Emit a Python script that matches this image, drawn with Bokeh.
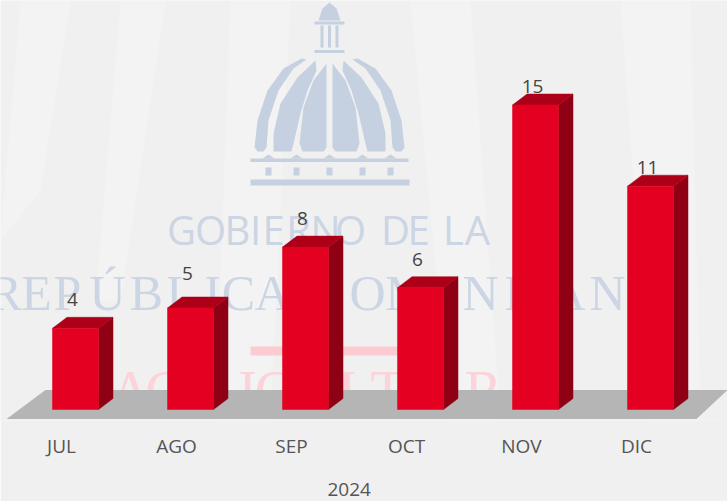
from bokeh.plotting import figure
from bokeh.embed import file_html
from bokeh.resources import INLINE
from bokeh.models import Range1d, LinearAxis, FixedTicker, Title, ColumnDataSource
from bokeh.core.properties import value

months = ["JUL", "AGO", "SEP", "OCT", "NOV", "DIC"]
counts = [4, 5, 8, 6, 15, 11]
year = "2024"

W, H, FRAME_H = 727, 501, 420
PX_X, PX_Y = 115.0, 20.3       # pixels per category / per unit
X0, Y0 = 75.0, 409.0           # pixel position of first bar centre / of zero
HALF = 23 / PX_X               # half bar width
DX, DY = 14.5 / PX_X, 11 / PX_Y  # 3D depth
BG = "#f0f0f0"

p = figure(width=W, height=H, output_backend="svg", toolbar_location=None,
           x_axis_type=None, y_axis_type=None, min_border=0, min_border_bottom=H - FRAME_H,
           x_range=Range1d(-X0 / PX_X, (W - X0) / PX_X),
           y_range=Range1d((Y0 - FRAME_H) / PX_Y, Y0 / PX_Y),
           background_fill_color=BG, border_fill_color=BG, outline_line_color=None)
p.grid.visible = False
p.extra_x_ranges["px"] = Range1d(0, W)
p.extra_y_ranges["px"] = Range1d(FRAME_H, 0)
p.extra_x_ranges["labels"] = Range1d(-61 / PX_X, (W - 61) / PX_X)

axis = LinearAxis(x_range_name="labels", ticker=FixedTicker(ticks=list(range(len(months)))),
                  major_label_overrides={i: m for i, m in enumerate(months)},
                  major_tick_line_color=None, minor_tick_line_color=None, axis_line_color=None,
                  major_label_standoff=6, major_label_text_font="Open Sans",
                  major_label_text_font_size="19px", major_label_text_color="#555555",
                  axis_label=" ", axis_label_standoff=11, axis_label_text_font_size="1px")
p.add_layout(axis, "below")
p.add_layout(Title(text=year, align="left", offset=327, standoff=8, text_font="Open Sans",
                   text_font_size="19px", text_font_style="normal", text_color="#555555"), "below")

# ---------- watermark background (decoration, in pixel coordinates) ----------
PX = dict(x_range_name="px", y_range_name="px")
streaks = [[(20, 0), (70, 0), (40, 190), (0, 240)], [(230, 0), (290, 0), (270, 420), (215, 420)],
           [(410, 0), (470, 0), (500, 420), (450, 420)], [(620, 0), (690, 0), (700, 420), (650, 420)],
           [(120, 0), (165, 0), (120, 300), (95, 300)]]
p.patches([[a for a, _ in s] for s in streaks], [[b for _, b in s] for s in streaks],
          color="#f3f3f3", line_color=None, **PX)

DOME = "#c5d0e0"
cx = 329.0
ribs = [
    [(301, 58), (283, 68), (267, 90), (257, 120), (254, 147), (257, 151), (263, 151), (266, 147),
     (268, 120), (278, 90), (293, 68), (306, 59)],
    [(315, 60), (297, 77), (280, 103), (273, 133), (273, 151), (291, 151), (293, 143), (300, 113), (307, 90), (316, 70)],
    [(326, 63), (313, 80), (303, 107), (299, 143), (302, 151), (323, 151), (326, 147)],
]
xs, ys = [], []
for r in ribs:
    xs.append([a for a, _ in r]); ys.append([b for _, b in r])
    xs.append([2 * cx - a for a, _ in r]); ys.append([b for _, b in r])
boxes = [(314, 344, 21, 24), (320, 323, 25, 47), (327.5, 330.5, 25, 47), (335, 338, 25, 47),
         (314, 344, 49.5, 52.5), (250, 408, 158, 161.5), (250, 409, 179, 185)]
boxes += [(c - 3, c + 3, 167, 175) for c in (268, 296, 329, 362, 390)]
for l, r, t, b in boxes:
    xs.append([l, r, r, l]); ys.append([t, t, b, b])
xs.append([318, 322, 329, 336, 340]); ys.append([20, 8, 2, 8, 20])
for c in (268, 296, 329, 362, 390):
    xs.append([c - 6, c, c + 6]); ys.append([158, 154, 158])
p.patches(xs, ys, color=DOME, line_color=None, **PX)


def letters(chars, centres, mid, size, color, font):
    p.text(centres, [mid] * len(chars), text=list(chars), text_align="center", text_baseline="middle",
           text_font_size=size, text_color=color, text_font=value(font), **PX)


letters("GOBIERNODELA", [181, 210, 237, 255, 273, 298, 325, 350, 395, 418, 453, 477], 229,
        "40px", "#cbd5e3", "Open Sans")
letters("REPÚBLICADOMINICANA", [5, 36, 67, 107, 146, 181, 212, 238, 272, 322, 367, 407, 440, 480, 512, 532, 567, 607, 650],
        292, "50px", "#cbd5e3", "Liberation Serif")
letters("AGRICULTURA", [130, 165, 205, 247, 273, 335, 353, 387, 425, 483, 530], 390,
        "56px", "#fbd3d8", "Liberation Serif")
p.quad(left=[250], right=[398], top=[346], bottom=[355], color="#fbcbd1", line_color=None, **PX)

# ---------- floor ----------
p.patch([6, 696, 727, 45], [418.5, 418.5, 389.5, 389.5], color="#b5b5b5", line_color=None, **PX)

# ---------- bars, from the data ----------
idx = list(range(len(months)))
p.patches([[i + HALF, i + HALF + DX, i + HALF + DX, i + HALF] for i in idx],
          [[0, DY, v + DY, v] for v in counts], color="#8f0014", line_color="#8f0014", line_width=0.5)
p.patches([[i - HALF, i - HALF + DX, i + HALF + DX, i + HALF] for i in idx],
          [[v, v + DY, v + DY, v] for v in counts], color="#ad0018", line_color="#ad0018", line_width=0.5)
p.quad(left=[i - HALF for i in idx], right=[i + HALF for i in idx], bottom=0, top=counts,
       color="#e30020", line_color="#e30020", line_width=0.5)

# data labels: lift above the bar's front edge, in pixels
label_lift = [29, 35, 29, 28, 19, 19]
src = ColumnDataSource(dict(x=idx, y=counts, t=[str(v) for v in counts], off=[-l for l in label_lift]))
p.text("x", "y", text="t", y_offset="off", x_offset=-3, source=src, text_align="center",
       text_baseline="middle", text_font=value("Open Sans"), text_font_size="19px", text_color="#444444")

open("out.html", "w").write(file_html(p, INLINE))
